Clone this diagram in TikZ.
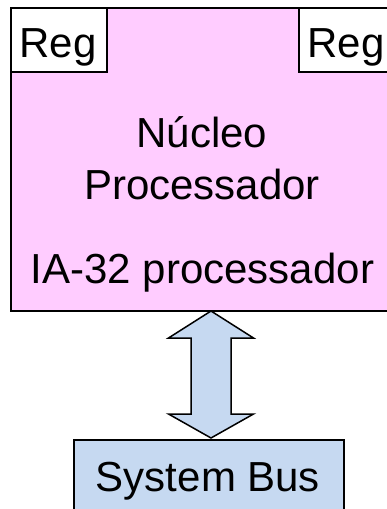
\documentclass[tikz,border=0pt]{standalone}
\usepackage{fontspec}
\setmainfont{Liberation Sans}
\usetikzlibrary{calc}
\definecolor{corepink}{HTML}{FFCCFF}
\definecolor{busblue}{HTML}{C6D9F1}
\tikzset{
  box/.style={draw=black, line width=2pt, inner sep=0pt, anchor=north west},
  label/.style={inner sep=0pt, anchor=base, font=\fontsize{42}{50}\selectfont},
  blockarrow/.style={draw=black, line width=1.5pt, fill=busblue, line join=miter}
}
\begin{document}
\begin{tikzpicture}[x=1pt, y=-1pt]
  \useasboundingbox (0,0) rectangle (387,509);
  \clip (0,0) rectangle (387,509);
  % processor core with its two registers
  \node[box, fill=corepink, minimum width=384pt, minimum height=303pt] (core) at (10,7) {};
  \node[box, fill=white, minimum width=96pt, minimum height=64pt] (regL) at (10,7) {};
  \node[box, fill=white, minimum width=96pt, minimum height=64pt] (regR) at (298,7) {};
  \node[label] (regLt) at (58,57) {Reg};
  \node[label] (regRt) at (346,57) {Reg};
  \node[label] (t1) at (202,147) {Núcleo};
  \node[label] (t2) at (202,199) {Processador};
  \node[label] (t3) at (202.5,283) {IA-32 processador};
  % system bus
  \node[box, fill=busblue, minimum width=270pt, minimum height=100pt] (bus) at (73,439) {};
  \node[label] (bust) at (208,491) {System Bus};
  % double block arrow between core and bus
  \coordinate (atop) at (211,311);
  \coordinate (abot) at (211,438);
  \draw[blockarrow] (atop) -- ++(42.5,27) -- ++(-22.5,0) -- ($(abot)+(20,-24)$)
    -- ++(22.5,0) -- (abot) -- ++(-42.5,-24) -- ++(22.5,0) -- ($(atop)+(-20,27)$)
    -- ++(-22.5,0) -- cycle;
\end{tikzpicture}
\end{document}
